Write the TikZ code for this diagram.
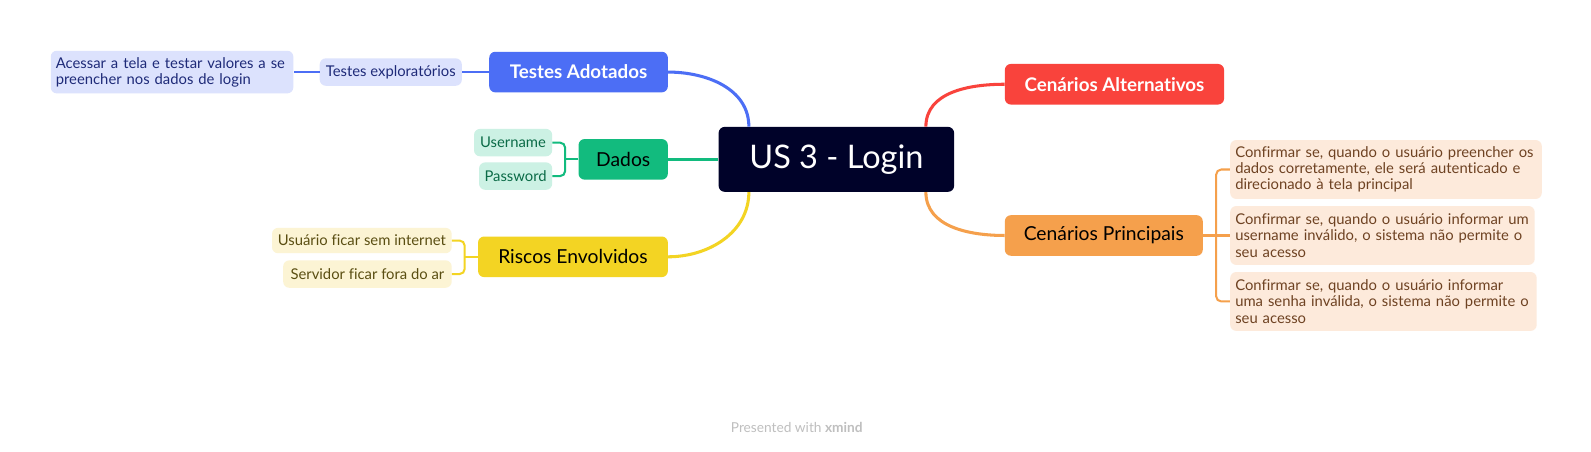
\documentclass[tikz,border=0pt]{standalone}
\usepackage{fontspec}
\setmainfont{Lato}[Ligatures=NoCommon]
\usetikzlibrary{positioning}
\definecolor{usnavy}{RGB}{0,2,41}
\definecolor{tblue}{RGB}{76,110,245}
\definecolor{tbluelight}{RGB}{220,226,253}
\definecolor{tbluetext}{RGB}{30,42,120}
\definecolor{dgreen}{RGB}{18,187,126}
\definecolor{dgreenlight}{RGB}{204,241,228}
\definecolor{dgreentext}{RGB}{11,107,71}
\definecolor{ryellow}{RGB}{243,212,35}
\definecolor{ryellowlight}{RGB}{252,244,212}
\definecolor{ryellowtext}{RGB}{90,78,18}
\definecolor{cred}{RGB}{249,67,60}
\definecolor{corange}{RGB}{245,160,76}
\definecolor{corangelight}{RGB}{253,234,219}
\definecolor{corangetext}{RGB}{110,66,34}
\begin{document}
\begin{tikzpicture}[x=1pt,y=1pt]
	\tikzset{
		central/.style={fill=usnavy, text=white, rounded corners=6pt, minimum width=232pt, minimum height=64pt, font=\fontsize{32}{35}\selectfont},
		topic/.style={rounded corners=6pt, minimum height=40pt, inner xsep=0pt, font=\fontsize{19}{22}\selectfont},
		whitetopic/.style={topic, text=white, font=\fontsize{18.5}{22}\selectfont\bfseries},
		sub/.style={rounded corners=6pt, minimum height=27pt, inner xsep=0pt, font=\fontsize{14.6}{17}\selectfont},
		note/.style={rounded corners=6pt, minimum height=58pt, inner xsep=5pt, align=left, font=\fontsize{14.6}{16}\selectfont},
		branch/.style={line width=3pt},
		twig/.style={line width=2pt, rounded corners=5pt}
	}
	\useasboundingbox[fill=white] (0,0) rectangle (1567.5,-445.3);
	\node [central] (us) at (824,-157) {US 3 - Login};
	\node [whitetopic, fill=tblue, minimum width=176pt] (ta) at (570,-71) {Testes Adotados};
	\node [sub, fill=tbluelight, text=tbluetext, minimum width=140pt] (te) at (385,-71) {Testes exploratórios};
	\node [note, fill=tbluelight, text=tbluetext, minimum height=42pt, text width=229pt] (ac) at (169.5,-71) {Acessar a tela e testar valores a se\\preencher nos dados de login};
	\node [topic, fill=dgreen, text=black, minimum width=88pt] (dd) at (614,-157) {Dados};
	\node [sub, fill=dgreenlight, text=dgreentext, minimum width=77pt] (un) at (505.5,-140.5) {Username};
	\node [sub, fill=dgreenlight, text=dgreentext, minimum width=72pt] (pw) at (508,-173.5) {Password};
	\node [topic, fill=ryellow, text=black, minimum width=187pt] (ri) at (564.5,-253) {Riscos Envolvidos};
	\node [sub, fill=ryellowlight, text=ryellowtext, minimum width=177pt, minimum height=25pt] (si) at (356.5,-237) {Usuário ficar sem internet};
	\node [sub, fill=ryellowlight, text=ryellowtext, minimum width=166pt] (sf) at (362,-270) {Servidor ficar fora do ar};
	\node [whitetopic, fill=cred, minimum width=216pt] (ca) at (1098,-83) {Cenários Alternativos};
	\node [topic, fill=corange, text=black, minimum width=195pt] (cp) at (1087.5,-232) {Cenários Principais};
	\node [note, fill=corangelight, text=corangetext, minimum width=307pt, text width=297pt] (s1) at (1365.5,-167) {Confirmar se, quando o usuário preencher os\\dados corretamente, ele será autenticado e\\direcionado à tela principal};
	\node [note, fill=corangelight, text=corangetext, minimum width=300pt, text width=290pt] (s2) at (1362,-232) {Confirmar se, quando o usuário informar um\\username inválido, o sistema não permite o\\seu acesso};
	\node [note, fill=corangelight, text=corangetext, minimum width=302pt, text width=292pt] (s3) at (1363,-297) {Confirmar se, quando o usuário informar\\uma senha inválida, o sistema não permite o\\seu acesso};
	\node [text=black!25, font=\fontsize{13.5}{15}\selectfont] (ft) at (785,-421) {Presented with \textbf{xmind}};
	\coordinate (dk) at ([xshift=-13]dd.west);
	\coordinate (rk) at ([xshift=-13]ri.west);
	\coordinate (pk) at ([xshift=13]cp.east);
	\draw [branch, tblue] (ta.east) to[out=0,in=90] ([xshift=30]us.north west);
	\draw [branch, dgreen] (dd.east) -- (us.west);
	\draw [branch, ryellow] (ri.east) to[out=0,in=-90] ([xshift=30]us.south west);
	\draw [branch, cred] (ca.west) to[out=180,in=90] ([xshift=-28]us.north east);
	\draw [branch, corange] (cp.west) to[out=180,in=-90] ([xshift=-28]us.south east);
	\draw [twig, tblue] (ta.west) -- (te.east);
	\draw [twig, tblue] (te.west) -- (ac.east);
	\draw [twig, dgreen] (un.east) -| (dk) |- (pw.east);
	\draw [twig, dgreen] (dd.west) -- (dk);
	\draw [twig, ryellow] (si.east) -| (rk) |- (sf.east);
	\draw [twig, ryellow] (ri.west) -- (rk);
	\draw [twig, corange] (s1.west) -| (pk) |- (s3.west);
	\draw [twig, corange] (cp.east) -- (s2.west);
\end{tikzpicture}
\end{document}
